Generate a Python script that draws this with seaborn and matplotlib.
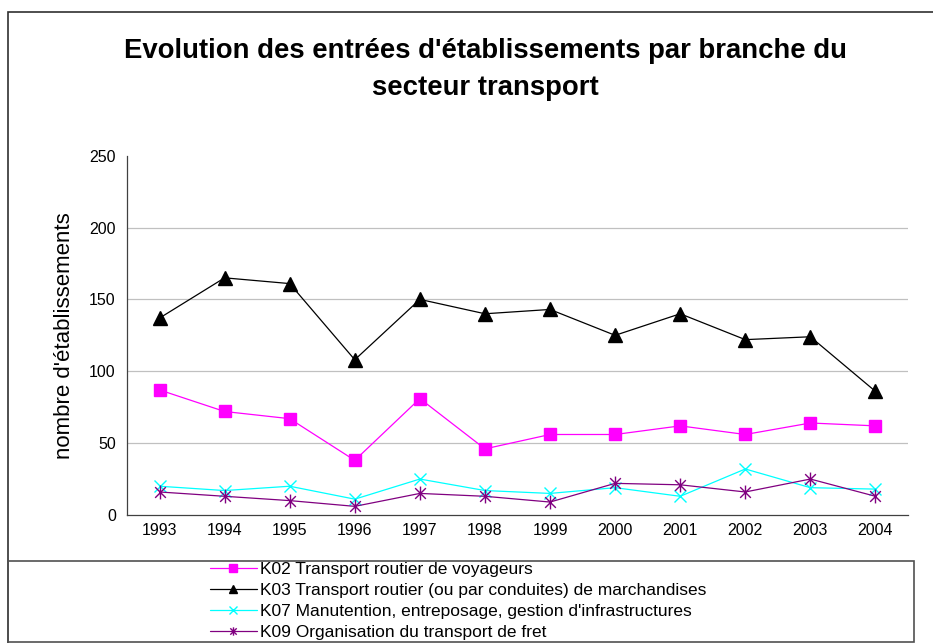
import pandas as pd
import matplotlib
matplotlib.use('Agg')
import matplotlib.pyplot as plt
from matplotlib.path import Path
from matplotlib.patches import Rectangle
import seaborn as sns

# Data
years = [1993, 1994, 1995, 1996, 1997, 1998, 1999, 2000, 2001, 2002, 2003, 2004]
k02 = [87, 72, 67, 38, 81, 46, 56, 56, 62, 56, 64, 62]
k03 = [137, 165, 161, 108, 150, 140, 143, 125, 140, 122, 124, 86]
k07 = [20, 17, 20, 11, 25, 17, 15, 19, 13, 32, 19, 18]
k09 = [16, 13, 10, 6, 15, 13, 9, 22, 21, 16, 25, 13]
labels = ['K02 Transport routier de voyageurs',
          'K03 Transport routier (ou par conduites) de marchandises',
          "K07 Manutention, entreposage, gestion d'infrastructures",
          'K09 Organisation du transport de fret']

df = pd.DataFrame({'annee': years * 4,
                   'valeur': k02 + k03 + k07 + k09,
                   'branche': [l for l in labels for _ in years]})

sns.set_style('white')
plt.rcParams['font.family'] = ['Liberation Sans', 'DejaVu Sans']
plt.rcParams['text.color'] = 'black'
plt.rcParams['axes.labelcolor'] = 'black'
plt.rcParams['xtick.color'] = 'black'
plt.rcParams['ytick.color'] = 'black'

# Excel-like star: x with a vertical bar
star = Path([(-1, -1), (1, 1), (-1, 1), (1, -1), (0, -1.3), (0, 1.3)],
            [Path.MOVETO, Path.LINETO, Path.MOVETO, Path.LINETO, Path.MOVETO, Path.LINETO])

colors = ['#ff00ff', '#000000', '#00ffff', '#800080']
marks = ['s', '^', 'x', star]
msizes = [9, 10, 9, 10]

fig = plt.figure(figsize=(9.33, 6.43), dpi=100)
ax = fig.add_axes([0.1361, 0.1991, 0.8371, 0.5588])

for lab, c, m, ms in zip(labels, colors, marks, msizes):
    sub = df[df['branche'] == lab]
    sns.lineplot(data=sub, x='annee', y='valeur', color=c, marker=m, markersize=ms,
                 markeredgecolor=c, markeredgewidth=1.0, linewidth=0.9, ax=ax)

ax.set_xlim(1992.5, 2004.5)
ax.set_ylim(0, 250)
ax.set_yticks([0, 50, 100, 150, 200, 250])
ax.set_xticks(years)
ax.set_xticks([y - 0.5 for y in years] + [2004.5], minor=True)
ax.tick_params(axis='x', which='major', length=0, labelsize=11.5, pad=6)
ax.tick_params(axis='x', which='minor', length=4, width=0.8, color='#404040', direction='out')
ax.tick_params(axis='y', length=4, width=0.8, color='#404040', labelsize=11.5, pad=4)
ax.set_xlabel('')
ax.set_ylabel("nombre d'établissements", fontsize=16, labelpad=10)

for v in [50, 100, 150, 200]:
    ax.axhline(v, color='#c0c0c0', linewidth=0.9, zorder=0)
for side in ['top', 'right']:
    ax.spines[side].set_visible(False)
for side in ['left', 'bottom']:
    ax.spines[side].set_color('#404040')
    ax.spines[side].set_linewidth(0.9)

fig.text(0.52, 0.8925, "Evolution des entrées d'établissements par branche du\nsecteur transport",
         ha='center', va='center', fontsize=19.8, fontweight='bold', linespacing=1.55)

# outer chart border and legend box
fig.patches.append(Rectangle((0.0086, -0.02), 1.2, 1.001, transform=fig.transFigure,
                             fill=False, edgecolor='#303030', linewidth=1.2))
fig.patches.append(Rectangle((0.0086, 0.0016), 0.971, 0.126, transform=fig.transFigure,
                             fill=False, edgecolor='#505050', linewidth=1.2))

handles = [plt.Line2D([], [], color=c, marker=m, markersize=6, markeredgecolor=c,
                      linewidth=0.9) for c, m in zip(colors, marks)]
fig.legend(handles, labels, loc='upper left', bbox_to_anchor=(0.225, 0.126),
           frameon=False, fontsize=12.5, handlelength=2.7, handletextpad=0.2,
           labelspacing=0.33, borderpad=0, borderaxespad=0)

plt.savefig('out.png', dpi=100)
